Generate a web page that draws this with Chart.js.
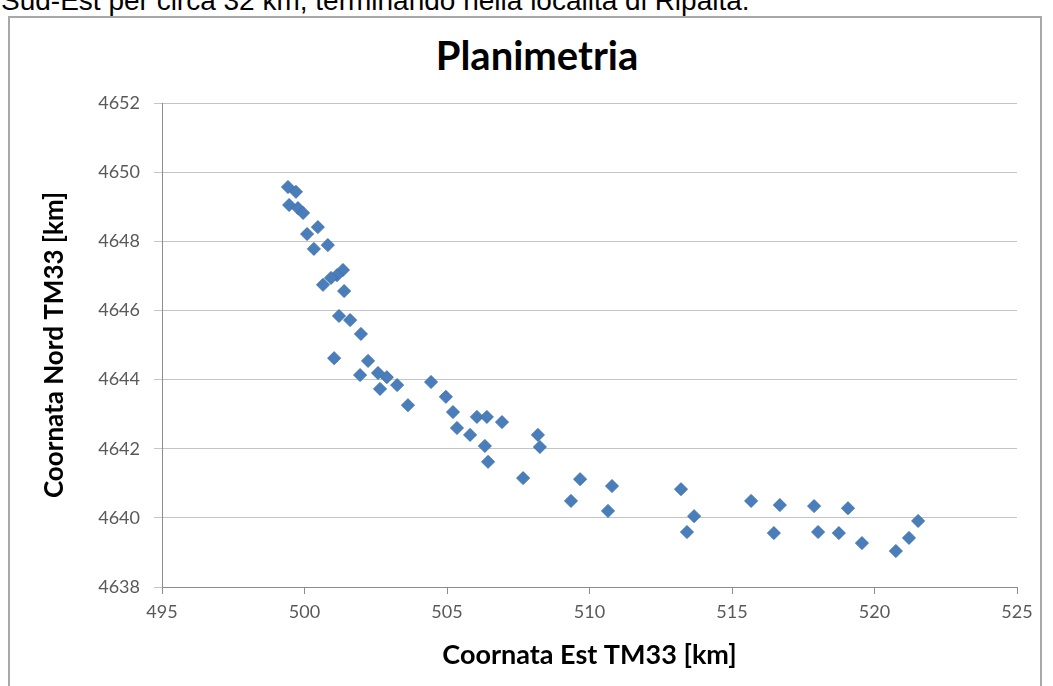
<!DOCTYPE html>
<html>
<head>
<meta charset="utf-8">
<title>Planimetria</title>
<script src="https://cdn.jsdelivr.net/npm/chart.js@4.4.1/dist/chart.umd.min.js"></script>
<style>
  html, body { margin: 0; padding: 0; background: #fff; overflow: hidden; width: 1053px; height: 686px; }
  .lead { position: absolute; left: 1px; top: -15px; font: 28px "Liberation Sans", Arial, sans-serif; color: #000; white-space: nowrap; }
  .frame { position: absolute; left: 8px; top: 16px; width: 1034px; height: 690px; border: 2px solid #a8a8a8; box-sizing: border-box; }
  .chart-title { position: absolute; left: 337px; width: 400px; top: 30px; text-align: center; font: bold 40px Lato, "Open Sans", sans-serif; line-height: 50px; color: #000; }
  #wrap { position: absolute; left: 9px; top: 17px; width: 1032px; height: 669px; }
</style>
</head>
<body>
<div class="lead">Sud-Est per circa 32 km, terminando nella località di Ripalta.</div>
<div class="frame"></div>
<div class="chart-title">Planimetria</div>
<div id="wrap"><canvas id="c" width="1032" height="669"></canvas></div>
<script>
// coordinate dei punti (km)
const eastKm = [
  499.42, 499.70, 499.46, 499.77, 499.95, 500.47, 500.09, 500.82, 500.33, 501.35,
  501.14, 500.93, 500.65, 501.39, 501.21, 501.60, 501.98, 501.04, 502.23, 501.95,
  502.58, 502.89, 502.65, 503.25, 503.63, 504.44, 504.96, 505.21, 506.05, 506.40,
  506.93, 505.35, 505.81, 506.33, 506.44, 508.19, 508.26, 507.67, 509.67, 509.35,
  510.79, 510.65, 513.21, 513.67, 513.42, 515.67, 516.68, 516.47, 517.88, 519.07,
  518.02, 518.75, 519.56, 520.75, 521.21, 521.53
];
const northKm = [
  4649.57, 4649.43, 4649.05, 4648.96, 4648.82, 4648.41, 4648.21, 4647.89, 4647.78, 4647.17,
  4647.02, 4646.94, 4646.74, 4646.56, 4645.84, 4645.72, 4645.32, 4644.62, 4644.54, 4644.13,
  4644.19, 4644.07, 4643.73, 4643.84, 4643.26, 4643.93, 4643.50, 4643.06, 4642.92, 4642.92,
  4642.77, 4642.60, 4642.40, 4642.08, 4641.62, 4642.40, 4642.05, 4641.15, 4641.12, 4640.49,
  4640.92, 4640.20, 4640.83, 4640.05, 4639.59, 4640.49, 4640.37, 4639.56, 4640.34, 4640.28,
  4639.59, 4639.56, 4639.27, 4639.04, 4639.42, 4639.91
];
const xTickValues = [495, 500, 505, 510, 515, 520, 525];
const yTickValues = [4638, 4640, 4642, 4644, 4646, 4648, 4650, 4652];

const gridGray = '#c4c4c4';
const axisGray = '#8c8c8c';
const labelGray = '#595959';
const fontFam = 'Lato, "Open Sans", sans-serif';

new Chart(document.getElementById('c'), {
  type: 'scatter',
  data: {
    datasets: [{
      data: eastKm.map((x, i) => ({ x, y: northKm[i] })),
      pointStyle: 'rectRot',
      pointRadius: 6.5,
      backgroundColor: '#4a7ebb',
      borderColor: '#3f72ae',
      borderWidth: 1,
    }]
  },
  options: {
    responsive: false,
    animation: false,
    devicePixelRatio: 1,
    layout: { padding: { top: 86, right: 24, left: 0, bottom: 0 } },
    plugins: {
      legend: { display: false },
      tooltip: { enabled: false },
    },
    scales: {
      x: {
        type: 'linear',
        min: 495, max: 525,
        afterBuildTicks: s => { s.ticks = xTickValues.map(v => ({ value: v })); },
        afterFit: s => { s.height = 99; },
        ticks: { color: labelGray, font: { family: fontFam, size: 18 }, padding: 7, callback: v => String(v), maxRotation: 0 },
        grid: { drawOnChartArea: false, drawTicks: true, tickLength: 7, color: axisGray },
        border: { display: true, color: axisGray, width: 1 },
        title: {
          display: true, text: 'Coornata Est TM33 [km]', color: '#000',
          font: { family: fontFam, size: 27, weight: 'bold', lineHeight: 1.2 },
          padding: { top: 4, bottom: 15 },
        },
      },
      y: {
        type: 'linear',
        min: 4638, max: 4652,
        afterBuildTicks: s => { s.ticks = yTickValues.map(v => ({ value: v })); },
        afterFit: s => { s.width = 153; },
        ticks: { color: labelGray, font: { family: fontFam, size: 18 }, padding: 14, callback: v => String(v) },
        grid: { color: gridGray, lineWidth: 1, drawTicks: true, tickLength: 8 },
        border: { display: true, color: axisGray, width: 1 },
        title: {
          display: true, text: 'Coornata Nord TM33 [km]', color: '#000',
          font: { family: fontFam, size: 26, weight: 'bold', lineHeight: 1.2 },
          padding: { top: 30, bottom: 4 },
        },
      },
    },
  },
});
</script>
</body>
</html>
